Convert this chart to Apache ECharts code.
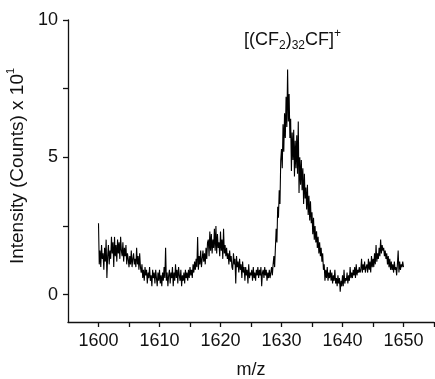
<!DOCTYPE html>
<html>
<head>
<meta charset="utf-8">
<script src="https://cdn.jsdelivr.net/npm/echarts@6/dist/echarts.min.js"></script>
<style>html,body{margin:0;padding:0;background:#fff}#c{width:435px;height:379px}</style>
</head>
<body>
<div id="c"></div>
<script>
// m/z sampling of the spectrum (uniform, 1/8 unit)
const mzStart = 1600;
const mzStep = 0.125;
// Intensity (counts x 10^1), one row per m/z unit
const intensity = [
  2.6, 1.1, 1.6, 1.0, 1.8, 1.3, 1.5, 0.9,
  1.7, 1.2, 2.0, 0.6, 1.4, 1.8, 1.1, 1.6,
  1.3, 2.1, 1.5, 1.9, 1.0, 2.1, 1.4, 1.8,
  1.2, 2.0, 1.5, 1.9, 1.3, 2.1, 1.6, 1.4,
  1.9, 1.2, 1.7, 1.4, 1.8, 1.1, 1.5, 1.3,
  1.0, 1.4, 1.1, 1.6, 1.0, 1.3, 1.5, 1.1,
  1.3, 1.0, 1.7, 1.1, 1.4, 0.9, 1.5, 1.0,
  0.8, 1.1, 0.6, 0.9, 0.5, 1.0, 0.7, 0.9,
  0.4, 0.8, 0.6, 1.0, 0.5, 0.7, 0.3, 0.9,
  0.6, 0.8, 0.4, 0.9, 0.6, 0.3, 0.8, 0.5,
  0.9, 0.4, 0.7, 0.3, 0.8, 0.5, 1.0, 0.6,
  1.7, 0.5, 0.8, 0.3, 0.7, 0.9, 0.4, 0.8,
  0.6, 1.0, 0.3, 0.8, 0.5, 1.1, 0.6, 0.9,
  0.4, 1.0, 0.7, 0.5, 0.9, 0.3, 0.7, 0.5,
  0.8, 0.4, 0.9, 0.6, 0.8, 0.5, 0.9, 0.6,
  1.0, 0.7, 0.9, 0.6, 1.1, 0.8, 1.2, 0.9,
  1.3, 1.0, 2.1, 0.9, 1.4, 1.1, 1.6, 1.0,
  1.3, 1.6, 1.2, 1.5, 1.1, 1.7, 1.3, 1.9,
  2.0, 1.4, 2.3, 1.6, 2.2, 1.5, 2.0, 1.7,
  2.4, 1.6, 2.5, 1.5, 2.2, 1.7, 1.9, 1.4,
  2.3, 1.6, 2.0, 1.3, 2.4, 1.5, 1.8, 1.4,
  1.7, 1.3, 1.5, 1.1, 1.6, 1.2, 1.4, 1.0,
  0.9, 1.5, 1.1, 1.3, 0.4, 1.4, 1.0, 1.2,
  0.8, 1.3, 0.9, 1.1, 0.6, 1.2, 0.8, 1.0,
  0.5, 1.0, 0.7, 0.9, 0.4, 1.1, 0.6, 0.8,
  0.7, 0.9, 0.5, 1.0, 0.6, 0.8, 0.5, 0.9,
  0.7, 1.0, 0.6, 0.9, 0.7, 1.0, 0.3, 0.8,
  0.9, 0.6, 1.0, 0.7, 0.9, 0.5, 0.8, 0.6,
  0.9, 0.6, 0.8, 1.0, 0.7, 1.1, 1.4, 1.0,
  1.7, 2.4, 1.9, 3.2, 2.8, 3.8, 3.3, 4.9,
  5.3, 4.6, 6.2, 5.2, 6.6, 5.7, 7.2, 6.1,
  8.2, 6.3, 7.3, 5.7, 6.4, 4.5, 5.9, 4.9,
  6.0, 4.3, 5.6, 4.6, 5.8, 4.4, 6.3, 3.7,
  5.0, 4.0, 4.9, 3.8, 4.6, 3.3, 4.4, 3.5,
  3.9, 3.1, 4.0, 2.9, 3.6, 2.7, 3.4, 2.6,
  3.0, 2.2, 2.8, 2.0, 2.5, 1.9, 2.3, 1.7,
  2.1, 1.5, 1.9, 1.4, 1.7, 1.2, 1.5, 0.9,
  1.1, 0.5, 0.9, 0.6, 1.0, 0.5, 0.8, 0.6,
  0.9, 0.5, 0.8, 0.4, 0.7, 0.5, 0.9, 0.4,
  0.6, 0.3, 0.7, 0.4, 0.6, 0.1, 0.5, 0.3,
  0.7, 0.3, 0.9, 0.4, 0.6, 0.5, 0.8, 0.4,
  0.7, 0.5, 1.0, 0.6, 0.8, 0.6, 0.9, 0.7,
  1.0, 0.6, 1.1, 0.7, 0.9, 0.8, 1.0, 0.8,
  0.9, 1.3, 0.8, 1.1, 0.9, 1.2, 0.8, 1.0,
  1.1, 0.8, 1.3, 0.9, 1.2, 0.8, 1.4, 1.0,
  1.3, 1.0, 1.5, 1.1, 1.8, 1.2, 1.5, 1.3,
  1.7, 1.4, 2.0, 1.5, 1.8, 1.6, 1.7, 1.4,
  1.6, 1.3, 1.5, 1.1, 1.4, 1.0, 1.3, 0.9,
  1.2, 0.9, 1.1, 0.8, 1.2, 0.9, 1.0, 0.7,
  1.1, 1.6, 0.8, 1.2, 0.9, 1.1, 1.0, 1.2,
  1.0
];
const xLabels = [1600, 1610, 1620, 1630, 1640, 1650];
const xTicks = [1600, 1605, 1610, 1615, 1620, 1625, 1630, 1635, 1640, 1645, 1650, 1655];
const yLabels = [0, 5, 10];
const yTicks = [0, 2.5, 5, 7.5, 10];

const data = intensity.map((v, i) => [mzStart + i * mzStep, v]);
const font = 'Liberation Sans, Arial, sans-serif';
const ink = '#111';

const chart = echarts.init(document.getElementById('c'), null, {renderer: 'canvas'});
chart.setOption({
  animation: false,
  backgroundColor: '#fff',
  title: {
    text: '{a|[(CF}{s|2}{a|)}{s|32}{a|CF]}{p|+}',
    left: 244, top: 28, padding: 0,
    textStyle: {
      fontWeight: 'normal',
      rich: {
        a: {fontFamily: font, fontSize: 18, fontWeight: 'normal', color: ink, lineHeight: 24, verticalAlign: 'middle'},
        s: {fontFamily: font, fontSize: 12, fontWeight: 'normal', color: ink, lineHeight: 12, verticalAlign: 'bottom'},
        p: {fontFamily: font, fontSize: 12, fontWeight: 'normal', color: ink, lineHeight: 12, verticalAlign: 'top'}
      }
    }
  },
  grid: {left: 68, right: 1, top: 20, bottom: 57, containLabel: false, outerBoundsMode: 'none'},
  xAxis: {
    type: 'value', min: 1595, max: 1655,
    name: 'm/z', nameLocation: 'middle', nameGap: 39,
    nameTextStyle: {fontFamily: font, fontSize: 18, color: ink},
    axisLine: {onZero: false, lineStyle: {color: ink, width: 1.3}},
    axisTick: {inside: false, length: 5, customValues: xTicks, lineStyle: {color: ink, width: 1.3}},
    axisLabel: {customValues: xLabels, margin: 10, fontFamily: font, fontSize: 18, color: ink,
      formatter: v => String(v)},
    splitLine: {show: false}
  },
  yAxis: {
    type: 'value', min: -1, max: 10,
    name: '{a|Intensity (Counts) x 10}{p|1}', nameLocation: 'middle', nameGap: 31, nameRotate: 90,
    nameTextStyle: {
      padding: [0, 0, 0, 10],
      rich: {
        a: {fontFamily: font, fontSize: 19, color: ink, lineHeight: 24, verticalAlign: 'middle'},
        p: {fontFamily: font, fontSize: 11, color: ink, lineHeight: 11, verticalAlign: 'top'}
      }
    },
    axisLine: {show: true, lineStyle: {color: ink, width: 1.3}},
    axisTick: {show: true, inside: false, length: 5, customValues: yTicks, lineStyle: {color: ink, width: 1.3}},
    axisLabel: {customValues: yLabels, margin: 10, fontFamily: font, fontSize: 18, color: ink,
      formatter: v => String(v)},
    splitLine: {show: false}
  },
  series: [{
    type: 'line', data: data, showSymbol: false, symbol: 'none',
    lineStyle: {color: '#000', width: 1.1}
  }]
});
</script>
</body>
</html>
